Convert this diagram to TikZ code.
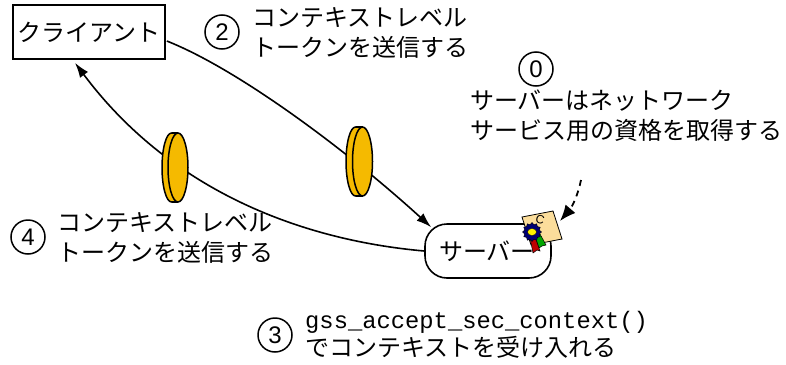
\documentclass[tikz,border=0pt]{standalone}
\usepackage{fontspec}
\setmainfont{Noto Sans CJK JP}
\newfontfamily\latinf{Liberation Sans}
\newfontfamily\monof{Liberation Mono}
\usetikzlibrary{arrows.meta,shapes.geometric,shapes.misc,calc}
\definecolor{coinc}{HTML}{F5BA00}
\definecolor{certc}{HTML}{FBDD9B}
\tikzset{
  x=1pt,y=-1pt,
  txt/.style={inner sep=0pt,anchor=west,font=\fontsize{24}{26}\selectfont},
  num/.style={circle,draw,line width=1.5pt,minimum size=34pt,inner sep=0pt,font=\latinf\fontsize{24}{26}\selectfont},
  conn/.style={line width=1.6pt,-{Latex[length=15pt,width=10pt]}},
  coin/.style={fill=coinc,draw,line width=1.5pt},
}
\begin{document}
\begin{tikzpicture}
\useasboundingbox (0,0) rectangle (786,364);
\node[draw,line width=1.6pt,minimum width=152pt,minimum height=54pt,inner sep=0pt,font=\fontsize{24}{26}\selectfont] (client) at (89,32) {クライアント};
\node[draw,rounded corners=22pt,line width=1.6pt,minimum width=126pt,minimum height=54pt,inner sep=0pt,font=\fontsize{24}{26}\selectfont] (server) at (488,251) {\hspace*{-2pt}サーバー};
\coordinate (cout) at ($(client.east)+(1,9)$);
\coordinate (cin) at ($(client.south)+(-14,3)$);
\coordinate (sin) at ($(server.north west)+(7,4)$);
\coordinate (dstart) at (581,180);
\coordinate (dend) at (560,221);
\draw[conn] (cout) .. controls (240,70) and (350,153) .. (sin);
\draw[conn] (server.west) .. controls (300,240) and (170,190) .. (cin);
% coins
\path[coin] (171.5,167.5) ellipse [x radius=9.5,y radius=34.5];
\draw[fill=coinc,draw=none] (171.5,134) rectangle (178,201);
\draw[line width=1.5pt] (171.5,133) -- (178,133) (171.5,202) -- (178,202);
\path[coin] (178,167.5) ellipse [x radius=10,y radius=34.5];
\path[coin] (355.5,161.5) ellipse [x radius=9.5,y radius=34.5];
\draw[fill=coinc,draw=none] (355.5,128) rectangle (362.5,195);
\draw[line width=1.5pt] (355.5,127) -- (362.5,127) (355.5,196) -- (362.5,196);
\path[coin] (362.5,161.5) ellipse [x radius=10,y radius=34.5];
% certificate
\draw[fill=certc,line width=.8pt] (522,217) -- (553,211) -- (562,239) -- (531,245) -- cycle;
\node[inner sep=0pt,font=\latinf\fontsize{12}{12}\selectfont,rotate=-15] (cc) at (540,220) {C};
\draw[fill=green!65!black,line width=.5pt] (535,236) -- (540,234) -- (546,245) -- (542,246) -- (539,248) -- cycle;
\draw[fill=red!75!black,line width=.5pt] (530,238) -- (535,237) -- (540,251) -- (537,250) -- (533,253) -- cycle;
\node[star,star points=12,star point ratio=1.25,draw=black,fill=blue!45!black,minimum size=19pt,inner sep=0pt,line width=.4pt] (ros) at (532,232) {};
\node[ellipse,fill=yellow,draw=black,line width=.3pt,minimum width=9pt,minimum height=7pt,inner sep=0pt] (rosc) at (532,232) {};
% dashed arrow
\draw[line width=1.8pt,dash pattern=on 6pt off 5pt,-{Latex[length=16pt,width=13pt]}] (dstart) .. controls (578,195) and (572,207) .. (dend);
% numbers and labels
\node[num] (n2) at (222,32) {2};
\node[txt] (l2a) at (252,18) {コンテキストレベル};
\node[txt] (l2b) at (252,47) {トークンを送信する};
\node[num] (n0) at (536,69) {0};
\node[txt] (l0a) at (470,101) {サーバーはネットワーク};
\node[txt] (l0b) at (470,130) {サービス用の資格を取得する};
\node[num] (n4) at (28,237) {4};
\node[txt] (l4a) at (57,223) {コンテキストレベル};
\node[txt] (l4b) at (57,252) {トークンを送信する};
\node[num] (n3) at (275,335) {3};
\node[txt,font=\monof\fontsize{23.8}{26}\selectfont] (l3a) at (305,322) {gss\_accept\_sec\_context()};
\node[txt] (l3b) at (305,347) {でコンテキストを受け入れる};
\end{tikzpicture}
\end{document}
